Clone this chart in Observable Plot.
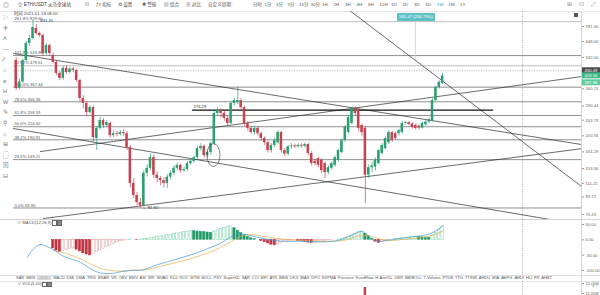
<!DOCTYPE html>
<html><head><meta charset="utf-8">
<script src="https://cdn.jsdelivr.net/npm/d3@7"></script>
<script src="https://cdn.jsdelivr.net/npm/@observablehq/plot@0.6"></script>
<style>
html,body{margin:0;padding:0;background:#fff;}
#wrap{position:relative;width:600px;height:295px;overflow:hidden;background:#fff;font-family:"Liberation Sans","Noto Sans CJK SC",sans-serif;color:#444;}
.t{position:absolute;white-space:nowrap;line-height:1;}
.hl{position:absolute;left:0;width:600px;height:0;border-top:1px solid #e2e2e2;}
#wrap svg{position:absolute;left:0;}
</style></head><body><div id="wrap"></div>
<script>
// ---------------- DATA ----------------
const symbolTitle = "☆ ETH/USDT 火币全球站";
const toolLabels = ["ƒx 指标", "⚙ 设置", "✱ 警报", "▤ 组合", "⊕ 对比", "自定义周期 ·"];
const periodLabels = ["分时","1分","3分","5分","15分","30分","1H","2H","3H","4H","6H","12H","1D","2D","3D","5D","1W","1M","1Y"];
const activePeriod = "1W";
const leftIcons = ["▷","✛","A","—","∕∕","○","≡","H","W","✎","⚲","⌂","⊞","▢","⊠","⊟"];
const timeText = "时间 2021-01-18 08:00";
const measureText = "581.47 (234.79%)";

// weekly candles (index = week)
const weekOpen = [512,362,392,512,633,673,762,716,698,558, 616,545,500,436,410,464,441,460,452,399, 319,300,268,285,194,220,243,228,234,201, 206,204,209,206,173,111,95.5,87.5,84.3,126, 134,153,123,118,115,111,120,126,134,139, 130,132,142,146,153,171,176,157,163,182, 265,275,265,249,234,300,304,311,285,234, 220,209,220,206,194,184,167,178,184,209, 167,160,175,177,175,178,176,180,161,146, 151,148,142,127,134,139,148,163,189,209, 234,282,275,228,220,123,135,136,142,161, 171,184,209,206,206,209,234,236,232,228, 226,221,230,238,241,311,366,385];
const weekClose = [362,392,512,633,673,771,716,698,558,616, 558,500,436,410,464,441,460,452,399,319, 300,268,285,196,220,243,228,237,201,206, 204,209,206,173,111,95.5,87.5,84.3,126,134, 153,123,118,115,111,120,126,134,139,130, 132,142,146,153,171,176,157,163,182,265, 275,265,249,234,300,311,311,285,234,220, 209,220,206,194,184,167,178,189,209,167, 160,175,177,175,178,176,180,161,142,142, 139,130,127,135,142,153,167,189,223,252, 282,265,220,209,123,135,138,148,167,178, 194,209,189,194,214,234,236,231,223,220, 221,234,238,245,311,366,390,423.16];
const weekHigh = [530,405,520,650,700,841.31,800,730,710,630, 625,560,510,445,475,480,470,470,460,405, 330,305,292,290,225,252,248,242,238,212, 212,214,216,212,178,118,99,92,130,140, 160,158,128,121,119,124,130,138,143,141, 136,145,150,156,175,182,179,168,186,272, 285,280,272,255,305,320,367.44,318,290,240, 225,226,224,210,198,188,182,195,214,212, 172,178,182,181,182,182,184,183,165,150, 154,151,145,138,145,156,170,193,228,258, 288,288,280,232,225,140,145,152,170,182, 198,214,212,210,218,240,240,240,236,232, 230,238,242,250,318,372,398,436];
const weekLow = [352,355,385,505,610,660,700,680,540,545, 540,490,425,398,400,430,432,440,390,305, 280,255,262,185,167,215,220,222,195,196, 198,200,200,168,105,92,84,81.8,83,120, 130,118,112,108,105,104,116,122,130,126, 127,129,139,143,150,166,152,153,158,178, 255,250,240,228,230,290,295,278,225,212, 205,203,200,188,178,162,162,173,180,162, 155,156,170,171,172,172,172,157,138,138, 135,126,118,124,131,136,145,160,185,205, 230,258,212,200,86.5,118,127,130,140,158, 168,180,185,190,200,205,230,228,218,216, 217,218,226,234,238,305,358,380];

// price axis ticks
const yTicks = [781,648,532,360.15,290.44,243.79,200.55,164.29,133.56,111.22,93.72,75.43];

// fibonacci levels
const fibLevel = ["0.0%","23.6%","38.2%","50.0%","61.8%","78.6%","100.0%","127.2%","161.8%","261.8%"];
const fibPrice = [81.80,149.21,190.91,224.62,258.33,306.35,367.44,479.51,543.96,829.60];

// drawn trend lines (week, price) end points
const trendId    = ["A","A","C","C","E","E","D","D","F","F"];
const trendWeek  = [99.3,168.4,-0.8,168.4,7.2,168.4,8.1,168.4,-0.8,159.2];
const trendPrice = [953,106.8,558,180,165,419,71.7,171,219.6,70.8];

// horizontal level line
const levelWeek = [52.5,141.9];
const levelPrice = 276.29;

// annotations
const noteWeek = [5,37];
const notePrice = [841.31,81.8];
const noteText = ["← 841.31","← 81.80"];
const circleWeek = 58.9, circlePrice = 157;
const crossWeek = 150.8, crossPrice = 450.49;
const measureWeek = 118.9, measureTop = 829.6, measureBottom = 512;
const tagValue = [450.49,423.16,387.96];

// MACD(12,26,9)
const macdHist = [null,null,null,null,null,null,null,null,null,null,null,
 -28,-35,-40,-37,-33,-30,-28,-32,-38,-44,
 -48,-51,-47,-41,-35,-29,-24,-19,-14,-9,
 -5,-3,-1,1,0,-1,1,2,
 3,5,7,9,11,13,15,17,19,21,23,25,27,29,
 28,27,26,25,24,23,
 27,31,35,39,42,44,
 38,30,22,15,9,5,2,0,
 -4,-8,-12,-16,-18,
 -15,-11,-7,-4,-2,-1,
 -3,-5,-7,-9,-10,-9,-8,-6,-4,
 -2,-1,0,1,3,5,9,14,19,24,26,20,12,4,-6,-10,-8,-5,-2,0,2,3,4,5,6,8,10,
 9,8,7,6,
 14,23,33,43];
const difWeek = [3.3,5.2,7.2,9.2,11.2,13.2,15.2,17.2,19.2,21.1,23.1,25.1,27.1,29.1,31.1,33.1,35,37,39,41,43,45,48.9,52.9,56.9,60.9,63.8,66.3,68.8,72.8,76.7,80.7,84.7,90.6,96.6,100.6,103.1,105.5,108,111.5,116.5,122.4,125.4,127];
const difValue = [-57,-29,-15,-22,-33,-48,-59,-65,-74,-87,-100,-108,-110,-109,-104,-101,-99,-100,-94,-85,-78,-72,-59,-46,-29,-11,8.5,19,16,6,-2,-5,-4.5,-7,0,19,28,6,-4.5,0,8.5,17,32,46];
const deaWeek = [11.2,15.2,19.2,23.1,27.1,31.1,35,39,43,46.9,50.9,54.9,58.9,62.9,66.8,69.8,73.8,78.7,84.7,90.6,97.6,102.6,106.5,110.5,116.5,123.4,127];
const deaValue = [-35,-46,-62,-84,-98,-102,-99,-97,-86,-76,-65,-51,-35,-13,11,17,11,3,-2,-4.5,-2,14,8.5,-2,3,13,28];
const macdTicks = [50,0,-50,-100];

// volume (only the visible spike)
const volWeek = [104];
const volValue = [17.6e6];
const volTicks = [22e6,11e6];

const indicatorNames = ["SAR","BBIS","VOL","MACD","DMI","DMA","TRIX","BRAR","VR","OBV","EMV","ASI","WR","WVAD","KDJ","ROC","MTM","BOLL","PSY","SuperKD","SAR","CCI","MFI","ATR","BBW","DKX","BIAS","DPO","EXPMA","Pressure","FundFlow","H-Ave/DL","LWR","BBIBOLL","T-Volume","PTDB","TTG","TTSMI","AHDU","MIA","AHPG","AHDI","HLI","FR","AHBT"];

// ---------------- LAYOUT ----------------
const wrap = document.getElementById("wrap");
function label(text, left, top, size, color, extra) {
  const s = document.createElement("div");
  s.className = "t"; s.textContent = text;
  s.style.left = left + "px"; s.style.top = top + "px";
  s.style.fontSize = size + "px"; s.style.color = color || "#444";
  if (extra) Object.assign(s.style, extra);
  wrap.appendChild(s); return s;
}
function hline(top, color) {
  const d = document.createElement("div"); d.className = "hl";
  d.style.top = top + "px"; if (color) d.style.borderTopColor = color;
  wrap.appendChild(d);
}

// toolbar
label("◎", 3, 2, 6, "#777");
label(symbolTitle, 18, 3, 4.6, "#333");
label("⊡", 85, 2.4, 5.4, "#777");
const toolX = [96, 118, 142, 164, 186, 208];
toolLabels.forEach((t, k) => label(t, toolX[k], 3, 4.6, "#555"));
periodLabels.forEach((p, k) => label(p, 253 + k * 11.5, 3, 4.4, p === activePeriod ? "#26a69a" : "#555"));
label("⊞", 567, 2, 5.5, "#888"); label("⊡", 579, 2, 5.5, "#888"); label("⤢", 591, 2, 5.5, "#888");
hline(10.5, "#e4e4e4");
leftIcons.forEach((ic, k) => label(ic, 3, 15 + k * 10.6, 5.6, "#777"));

const GREEN = "#2a9f70", RED = "#c9404f";
const font = "Liberation Sans, Noto Sans CJK SC, sans-serif";
const xScale = {type: "linear", domain: [0, 127], range: [15.7, 442.1]};

const candles = weekOpen.map((o, i) => ({week: i, open: o, close: weekClose[i], high: weekHigh[i], low: weekLow[i]}));
const up = d => d.close >= d.open;
const fibs = fibLevel.map((l, k) => ({level: l, price: fibPrice[k]}));
const trends = trendId.map((id, k) => ({id, week: trendWeek[k], price: trendPrice[k]}));
const notes = noteWeek.map((w, k) => ({week: w, price: notePrice[k], text: noteText[k]}));
const level = levelWeek.map(w => ({week: w, price: levelPrice}));

// ---------------- MAIN PRICE PANEL ----------------
const main = Plot.plot({
  width: 600, height: 208, marginTop: 0, marginBottom: 0, marginLeft: 13, marginRight: 19,
  style: {background: "transparent", fontFamily: font, fontSize: "4.2px", overflow: "hidden"},
  x: {...xScale, axis: null},
  y: {type: "log", domain: [75.43, 781], range: [203, 15]},
  marks: [
    Plot.ruleY(fibs, {y: "price", stroke: d => d.level === "261.8%" || d.level === "127.2%" ? "#a8a8a8" : "#6a6a6a", strokeWidth: 0.75}),
    Plot.text(fibs, {y: "price", text: d => `${d.level} ${d.price.toFixed(2)}`, frameAnchor: "left", textAnchor: "start", dx: 1, dy: -2.6, fill: "#555", fontSize: 4.2}),
    Plot.ruleY([crossPrice], {stroke: "#9a9a9a", strokeDasharray: "1.2,1.2", strokeWidth: 0.7}),
    Plot.ruleX([crossWeek], {stroke: "#9a9a9a", strokeDasharray: "1.2,1.2", strokeWidth: 0.7}),
    Plot.ruleX([{week: measureWeek, top: measureTop, bottom: measureBottom}], {x: "week", y1: "top", y2: "bottom", stroke: "#c8c8c8", strokeWidth: 0.7}),
    Plot.line(trends, {x: "week", y: "price", z: "id", stroke: "#2a2a2a", strokeWidth: 0.7, clip: true}),
    Plot.line(level, {x: "week", y: "price", stroke: "#111", strokeWidth: 1.4}),
    Plot.text([level[0]], {x: "week", y: "price", text: d => d.price.toFixed(2), textAnchor: "start", dx: 1, dy: -3.2, fill: "#333", fontSize: 4.2}),
    Plot.ruleX(candles, {x: "week", y1: "low", y2: "high", stroke: d => up(d) ? GREEN : RED, strokeWidth: 0.7}),
    Plot.rect(candles, {x1: d => d.week - 0.37, x2: d => d.week + 0.37, y1: "open", y2: "close", fill: d => up(d) ? GREEN : RED}),
    Plot.text(notes, {x: "week", y: "price", text: "text", textAnchor: "start", dx: 2, fill: "#333", fontSize: 4.2}),
    Plot.axisY({anchor: "right", ticks: yTicks, tickFormat: d => d.toFixed(2), tickSize: 2, tickPadding: 2, fontSize: 4.2, fill: "#666", stroke: "#999"})
  ]
});
main.style.top = "11px";
wrap.appendChild(main);
{
  const sx = main.scale("x"), sy = main.scale("y");
  const g = d3.select(main);
  g.append("ellipse").attr("cx", sx.apply(circleWeek)).attr("cy", sy.apply(circlePrice))
    .attr("rx", 6.5).attr("ry", 11.5).attr("fill", "none").attr("stroke", "#333").attr("stroke-width", 0.6);
  const tagColor = ["#4b4b4b", "#3cb886", "#5ccb9c"];
  tagValue.forEach((v, k) => {
    const y = sy.apply(v);
    g.append("rect").attr("x", 582).attr("y", y - 3).attr("width", 18).attr("height", 6).attr("fill", tagColor[k]);
    g.append("text").attr("x", 591).attr("y", y).attr("dy", "0.35em").attr("text-anchor", "middle")
      .attr("font-size", 4.2).attr("fill", "#fff").text(v.toFixed(2));
  });
}
label(timeText, 14, 12, 4.3, "#444");
label(measureText, 397, 12.5, 4.2, "#fff", {background: "#5fc0c6", width: "38px", height: "8px", lineHeight: "8px", textAlign: "center"});
label("", 574, 13, 4, "#555", {width: "4px", height: "4px", background: "#555"});

// ---------------- MACD PANEL ----------------
hline(218.5, "#d2d2d2");
const hist = macdHist.map((h, i) => ({week: i, h, prev: i > 0 ? macdHist[i - 1] : null})).filter(d => d.h != null);
const hollow = d => d.prev != null && d.h >= d.prev;
const histFill = d => hollow(d) ? "#fff" : (d.h >= 0 ? "#1f9867" : "#bf3440");
const histStroke = d => d.h >= 0 ? (hollow(d) ? "#72cfa3" : "#1f9867") : (hollow(d) ? "#e39aa0" : "#bf3440");
const dif = difWeek.map((w, k) => ({week: w, v: difValue[k]}));
const dea = deaWeek.map((w, k) => ({week: w, v: deaValue[k]}));
const macd = Plot.plot({
  width: 600, height: 56, marginTop: 0, marginBottom: 0, marginLeft: 13, marginRight: 19,
  style: {background: "transparent", fontFamily: font, fontSize: "4.2px", overflow: "hidden"},
  x: {...xScale, axis: null},
  y: {domain: [-116.3, 66.3], range: [56, 0]},
  marks: [
    Plot.ruleX([crossWeek], {stroke: "#9a9a9a", strokeDasharray: "1.2,1.2", strokeWidth: 0.7}),
    Plot.rect(hist, {x1: d => d.week - 0.34, x2: d => d.week + 0.34, y1: 0, y2: "h", fill: histFill, stroke: histStroke, strokeWidth: 0.5}),
    Plot.line(dea, {x: "week", y: "v", stroke: "#e0b04a", strokeWidth: 0.7, curve: "catmull-rom"}),
    Plot.line(dif, {x: "week", y: "v", stroke: "#3d9bd1", strokeWidth: 0.7, curve: "catmull-rom"}),
    Plot.axisY({anchor: "right", ticks: macdTicks, tickFormat: d => d.toFixed(2), tickSize: 2, tickPadding: 2, fontSize: 4.2, fill: "#666", stroke: "#999"})
  ]
});
macd.style.top = "219px";
wrap.appendChild(macd);
label("∨  MACD(12,26,9)", 17, 220.5, 4.2, "#555");
label("", 52, 220.3, 4, "#555", {width: "3.4px", height: "3.4px", border: "0.6px solid #666"});
label("", 57, 220.3, 4, "#555", {width: "3.4px", height: "3.4px", border: "0.6px solid #666", background: "#888"});

// ---------------- INDICATOR ROW ----------------
hline(274.5, "#e0e0e0");
hline(280.5, "#e6e6e6");
{
  const row = document.createElement("div");
  Object.assign(row.style, {position: "absolute", left: "16px", top: "275.8px", width: "536px", display: "flex", justifyContent: "space-between", fontSize: "4px", lineHeight: "4.4px", color: "#555", whiteSpace: "nowrap"});
  indicatorNames.forEach((n, k) => {
    const s = document.createElement("span"); s.textContent = n;
    if (k === 2) Object.assign(s.style, {background: "#d9d9d9", color: "#aaa", padding: "0 3px"});
    row.appendChild(s);
  });
  wrap.appendChild(row);
}

// ---------------- VOLUME PANEL ----------------
const vol = Plot.plot({
  width: 600, height: 14, marginTop: 0, marginBottom: 0, marginLeft: 13, marginRight: 19,
  style: {background: "transparent", fontFamily: font, fontSize: "4.2px", overflow: "hidden"},
  x: {...xScale, axis: null},
  y: {domain: [8.8e6, 24.2e6], range: [14, 0]},
  marks: [
    Plot.ruleX([crossWeek], {stroke: "#9a9a9a", strokeDasharray: "1.2,1.2", strokeWidth: 0.7}),
    Plot.rect(volWeek.map((w, k) => ({week: w, v: volValue[k]})), {x1: d => d.week - 0.37, x2: d => d.week + 0.37, y1: 0, y2: "v", fill: RED, clip: true}),
    Plot.axisY({anchor: "right", ticks: volTicks, tickFormat: d => (d / 1e6).toFixed(2) + "M", tickSize: 2, tickPadding: 2, fontSize: 4, fill: "#666", stroke: "#999"})
  ]
});
vol.style.top = "281px";
wrap.appendChild(vol);
label("∨  VOL(5,10)", 17, 282, 4.2, "#555");
label("", 42, 281.8, 4, "#555", {width: "3.4px", height: "3.4px", border: "0.6px solid #666"});
label("", 47, 281.8, 4, "#555", {width: "3.4px", height: "3.4px", border: "0.6px solid #666", background: "#888"});

// right axis divider
{
  const v = document.createElement("div");
  Object.assign(v.style, {position: "absolute", left: "581px", top: "11px", width: "0", height: "284px", borderLeft: "1px solid #d4d4d4"});
  wrap.appendChild(v);
}
</script></body></html>
